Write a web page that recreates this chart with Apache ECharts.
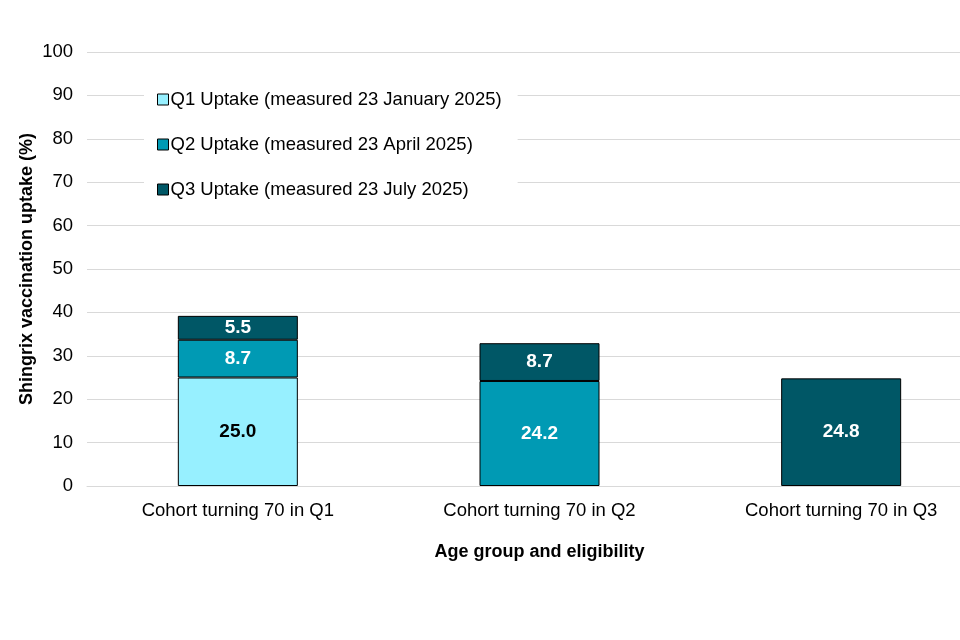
<!DOCTYPE html>
<html>
<head>
<meta charset="utf-8">
<script src="https://cdn.jsdelivr.net/npm/echarts@6/dist/echarts.min.js"></script>
<style>html,body{margin:0;padding:0;background:#fff}#c{width:960px;height:640px}</style>
</head>
<body>
<div id="c"></div>
<script>
const categories = ['Cohort turning 70 in Q1', 'Cohort turning 70 in Q2', 'Cohort turning 70 in Q3'];
const seriesNames = ['Q1 Uptake (measured 23 January 2025)', 'Q2 Uptake (measured 23 April 2025)', 'Q3 Uptake (measured 23 July 2025)'];
const q1Values = [25.0, null, null];
const q2Values = [8.7, 24.2, null];
const q3Values = [5.5, 8.7, 24.8];
const yTicks = [0, 10, 20, 30, 40, 50, 60, 70, 80, 90, 100];

const colors = ['#97F0FF', '#009AB4', '#005766'];
const labelColors = ['#000000', '#ffffff', '#ffffff'];
const font = 'Liberation Sans, Arial, sans-serif';
const valueSets = [q1Values, q2Values, q3Values];

const chart = echarts.init(document.getElementById('c'));
chart.setOption({
  animation: false,
  textStyle: { fontFamily: font },
  grid: { left: 87, top: 52, width: 905, height: 434, containLabel: false, outerBoundsMode: 'none' },
  legend: {
    orient: 'vertical',
    left: 144,
    top: 84,
    itemGap: 26,
    itemWidth: 11,
    itemHeight: 11,
    icon: 'rect',
    backgroundColor: '#ffffff',
    padding: [6, 16, 6, 13],
    textStyle: { fontSize: 18.5, color: '#000', fontFamily: font, padding: [0, 0, 0, -3] },
    data: seriesNames.map((n) => ({ name: n, itemStyle: { borderColor: '#000', borderWidth: 1 } }))
  },
  xAxis: {
    type: 'category',
    data: categories,
    name: 'Age group and eligibility',
    nameLocation: 'middle',
    nameGap: 57,
    nameMoveOverlap: false,
    nameTextStyle: { fontSize: 18, fontWeight: 'bold', color: '#000', fontFamily: font },
    axisLine: { lineStyle: { color: '#d9d9d9' } },
    axisTick: { show: false },
    axisLabel: { fontSize: 18.5, color: '#000', margin: 15, fontFamily: font }
  },
  yAxis: {
    type: 'value',
    min: 0,
    max: 100,
    interval: 10,
    name: 'Shingrix vaccination uptake (%)',
    nameLocation: 'middle',
    nameGap: 51,
    nameMoveOverlap: false,
    nameTextStyle: { fontSize: 18, fontWeight: 'bold', color: '#000', fontFamily: font },
    axisLine: { show: false },
    axisTick: { show: false },
    splitLine: { lineStyle: { color: '#d9d9d9', width: 1 } },
    axisLabel: {
      fontSize: 18.5, color: '#000', margin: 14, fontFamily: font,
      formatter: (v) => (yTicks.includes(v) ? String(v) : '')
    }
  },
  series: seriesNames.map((name, i) => ({
    name: name,
    type: 'bar',
    stack: 'total',
    barWidth: 120,
    data: valueSets[i],
    itemStyle: { color: colors[i], borderColor: '#000', borderWidth: 1 },
    label: {
      show: true,
      position: 'inside',
      fontSize: 19,
      fontWeight: 'bold',
      color: labelColors[i],
      fontFamily: font,
      formatter: (p) => (p.value == null ? '' : Number(p.value).toFixed(1))
    }
  }))
});
</script>
</body>
</html>
